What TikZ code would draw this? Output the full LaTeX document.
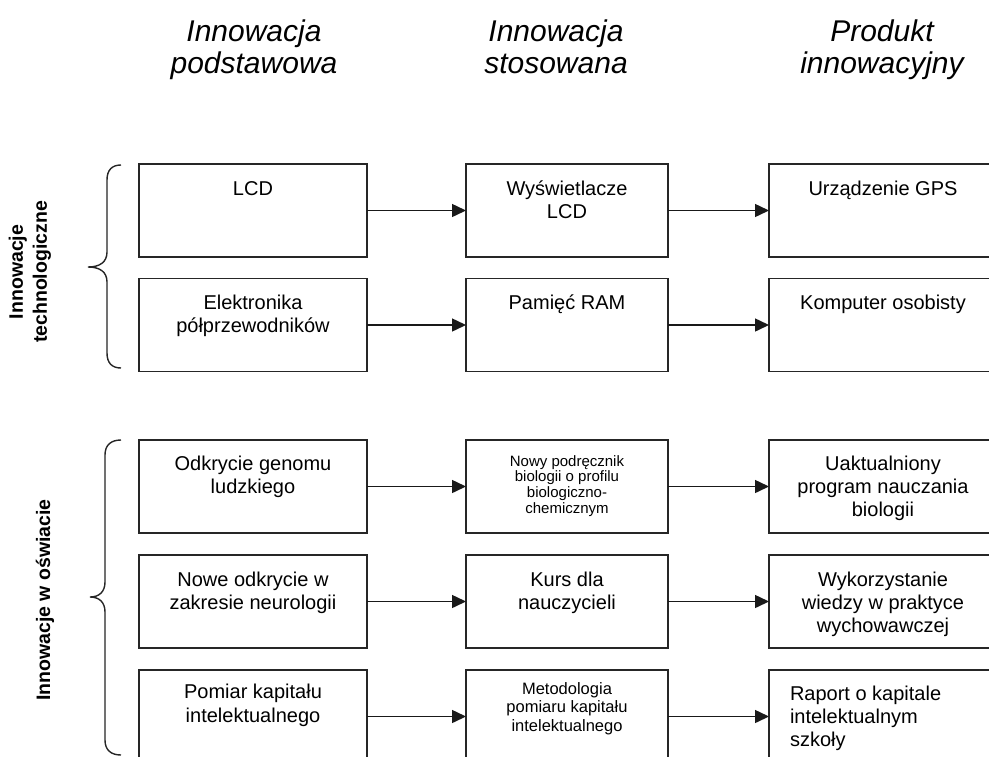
\documentclass[tikz,border=0pt]{standalone}
\usepackage{fontspec}
\setmainfont{Liberation Sans}
\usetikzlibrary{arrows.meta}
\newcommand\bt[5]{\parbox[c][93pt][t]{#1}{\centering\fontsize{#2}{#3}\selectfont\rule{0pt}{#4}#5}}
\newcommand\btl[5]{\parbox[c][93pt][t]{#1}{\raggedright\leftskip=21pt\fontsize{#2}{#3}\selectfont\rule{0pt}{#4}#5}}
\tikzset{
  box/.style={draw=black!85, line width=1.8pt, inner sep=0pt, outer sep=0pt},
  arr/.style={draw=black!90, line width=1.5pt, -{Triangle[length=14pt,width=13pt]}},
  hdr/.style={anchor=north, align=center, inner sep=0pt, font=\fontsize{30}{32}\selectfont\itshape},
  side/.style={rotate=90, align=center, inner sep=0pt, font=\fontsize{19.5}{24}\selectfont\bfseries},
  brace/.style={draw=black!85, line width=1.4pt}
}
\begin{document}
\begin{tikzpicture}[x=1pt,y=1pt]
\useasboundingbox (0,0) rectangle (989,-756);
\clip (0,0) rectangle (989,-756);
\fill[white] (0,0) rectangle (989,-756);
% headers
\node[hdr] (h1) at (254,-19.5) {Innowacja\\podstawowa};
\node[hdr] (h2) at (556,-19.5) {Innowacja\\stosowana};
\node[hdr] (h3) at (882,-19.5) {Produkt\\innowacyjny};
% side labels
\node[side] (s1) at (30,-272) {Innowacje\\technologiczne};
\node[side] (s2) at (45,-600) {Innowacje w oświacie};
% braces
\draw[brace] (121,-165) .. controls (112,-165) and (107,-170) .. (107,-180) -- (107,-252)
  .. controls (107,-262) and (100,-267) .. (88,-267)
  .. controls (100,-267) and (107,-272) .. (107,-282) -- (107,-353)
  .. controls (107,-363) and (112,-368) .. (121,-368);
\draw[brace] (121,-440) .. controls (111,-440) and (105,-445) .. (105,-455) -- (105,-582)
  .. controls (105,-592) and (99,-597) .. (90,-597)
  .. controls (99,-597) and (105,-602) .. (105,-612) -- (105,-740)
  .. controls (105,-750) and (111,-755) .. (121,-755);
% row 1
\node[box] (a1) at (253,-210.5) {\bt{228pt}{20}{23}{31pt}{LCD}};
\node[box] (b1) at (567,-210.5) {\bt{202pt}{20}{23}{31pt}{Wyświetlacze\\LCD}};
\node[box] (c1) at (883,-210.5) {\bt{228pt}{20}{23}{31pt}{Urządzenie GPS}};
% row 2
\node[box] (a2) at (253,-325) {\bt{228pt}{20}{23}{31pt}{Elektronika\\półprzewodników}};
\node[box] (b2) at (567,-325) {\bt{202pt}{20}{23}{31pt}{Pamięć RAM}};
\node[box] (c2) at (883,-325) {\bt{228pt}{20}{23}{31pt}{Komputer osobisty}};
% row 3
\node[box] (a3) at (253,-486.5) {\bt{228pt}{20}{23}{30pt}{Odkrycie genomu\\ludzkiego}};
\node[box] (b3) at (567,-486.5) {\bt{202pt}{15}{15.7}{26pt}{Nowy podręcznik\\biologii o profilu\\biologiczno-\\chemicznym}};
\node[box] (c3) at (883,-486.5) {\bt{228pt}{20}{23}{30pt}{Uaktualniony\\program nauczania\\biologii}};
% row 4
\node[box] (a4) at (253,-601.5) {\bt{228pt}{20}{23}{31pt}{Nowe odkrycie w\\zakresie neurologii}};
\node[box] (b4) at (567,-601.5) {\bt{202pt}{20}{23}{31pt}{Kurs dla\\nauczycieli}};
\node[box] (c4) at (883,-601.5) {\bt{228pt}{20}{23}{31pt}{Wykorzystanie\\wiedzy w praktyce\\wychowawczej}};
% row 5
\node[box] (a5) at (253,-716.5) {\bt{228pt}{20}{24}{28pt}{Pomiar kapitału\\intelektualnego}};
\node[box] (b5) at (567,-716.5) {\bt{202pt}{16.5}{18.5}{24pt}{Metodologia\\pomiaru kapitału\\intelektualnego}};
\node[box] (c5) at (883,-716.5) {\btl{228pt}{20}{23}{30pt}{Raport o kapitale\\intelektualnym\\szkoły}};
% arrows
\foreach \r in {1,...,5}{
  \draw[arr] (a\r) -- (b\r);
  \draw[arr] (b\r) -- (c\r);
}
\end{tikzpicture}
\end{document}
